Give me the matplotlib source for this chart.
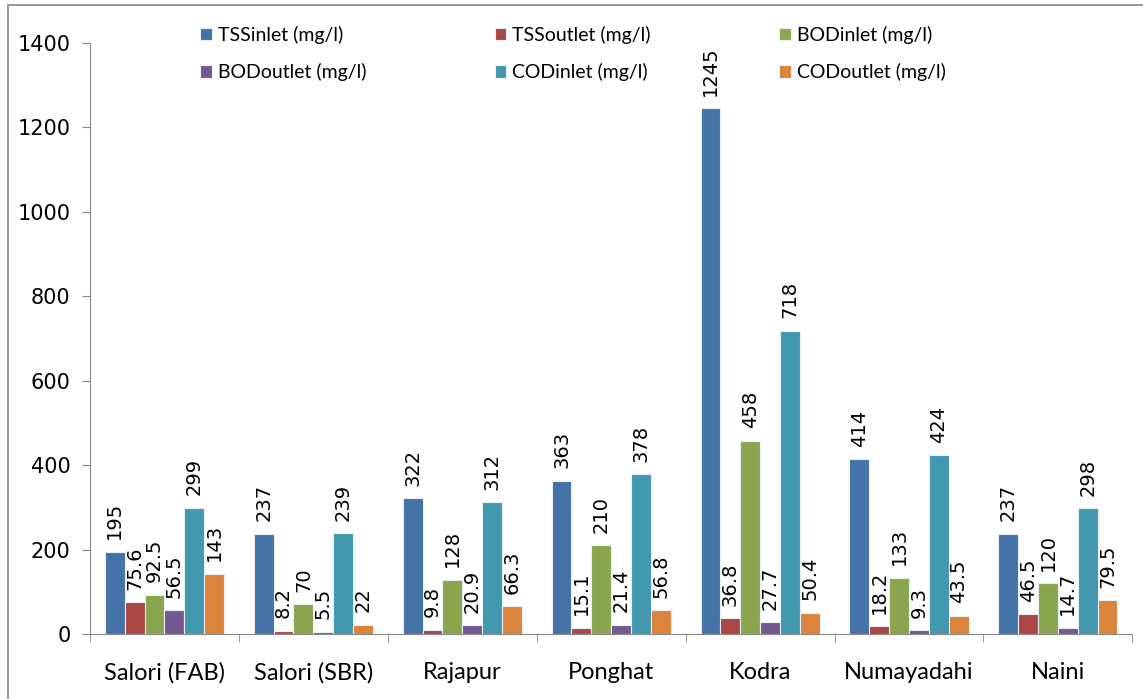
import matplotlib
matplotlib.use("Agg")
import matplotlib.pyplot as plt
import numpy as np
from matplotlib.patches import Rectangle

# 数据
categories = ["Salori (FAB)", "Salori (SBR)", "Rajapur", "Ponghat", "Kodra", "Numayadahi", "Naini"]
series_names = ["TSSinlet (mg/l)", "TSSoutlet (mg/l)", "BODinlet (mg/l)",
                "BODoutlet (mg/l)", "CODinlet (mg/l)", "CODoutlet (mg/l)"]
tss_in = [195, 237, 322, 363, 1245, 414, 237]
tss_out = [75.6, 8.2, 9.8, 15.1, 36.8, 18.2, 46.5]
bod_in = [92.5, 70, 128, 210, 458, 133, 120]
bod_out = [56.5, 5.5, 20.9, 21.4, 27.7, 9.3, 14.7]
cod_in = [299, 239, 312, 378, 718, 424, 298]
cod_out = [143, 22, 66.3, 56.8, 50.4, 43.5, 79.5]
series = [tss_in, tss_out, bod_in, bod_out, cod_in, cod_out]
colors = ["#4572A7", "#AA4643", "#89A54E", "#71588F", "#4198AF", "#DB843D"]

fig = plt.figure(figsize=(11.43, 6.99), dpi=100)
ax = fig.add_axes([0.0787, 0.093, 0.912, 0.8455])

x = np.arange(len(categories))
w = 0.8 / len(series)
handles = []
for i, (vals, name, c) in enumerate(zip(series, series_names, colors)):
    pos = x - 0.4 + w * (i + 0.5)
    b = ax.bar(pos, vals, width=w, color=c, edgecolor="#e8eef5", linewidth=0.8, label=name)
    handles.append(b)
    for px, v in zip(pos, vals):
        ax.annotate("%g" % v, (px, v), xytext=(0, 9), textcoords="offset points",
                    rotation=90, ha="center", va="bottom", fontsize=14,
                    family="DejaVu Sans")

ax.set_xlim(-0.5, len(categories) - 0.5)
ax.set_ylim(0, 1400)
ax.set_yticks(range(0, 1401, 200))
ax.set_xticks(x)
ax.set_xticklabels(categories, fontsize=17, family="Lato")
ax.set_xticks(np.arange(-0.5, len(categories)), minor=True)
ax.tick_params(axis="x", which="major", length=0, pad=20)
ax.tick_params(axis="x", which="minor", length=6, color="#888888", direction="out")
ax.tick_params(axis="y", length=6, color="#888888", direction="out", labelsize=15, pad=8)
for lab in ax.get_yticklabels():
    lab.set_family("DejaVu Sans")
for s in ["top", "right"]:
    ax.spines[s].set_visible(False)
for s in ["left", "bottom"]:
    ax.spines[s].set_color("#888888")

# 图例按行排列
order = [0, 3, 1, 4, 2, 5]
fig.legend([handles[k] for k in order], [series_names[k] for k in order],
           loc="upper left", bbox_to_anchor=(0.16, 0.988), ncol=3, frameon=False,
           prop={"family": "Lato", "size": 14}, handlelength=0.6, handleheight=0.6,
           handletextpad=0.3, columnspacing=6.6, labelspacing=1.0)

# 外框
fig.patches.append(Rectangle((0.007, -0.01), 1.1, 1 - 5 / 699 + 0.01, transform=fig.transFigure,
                             fill=False, edgecolor="#888888", linewidth=1.2))

fig.savefig("out.png", dpi=100)
